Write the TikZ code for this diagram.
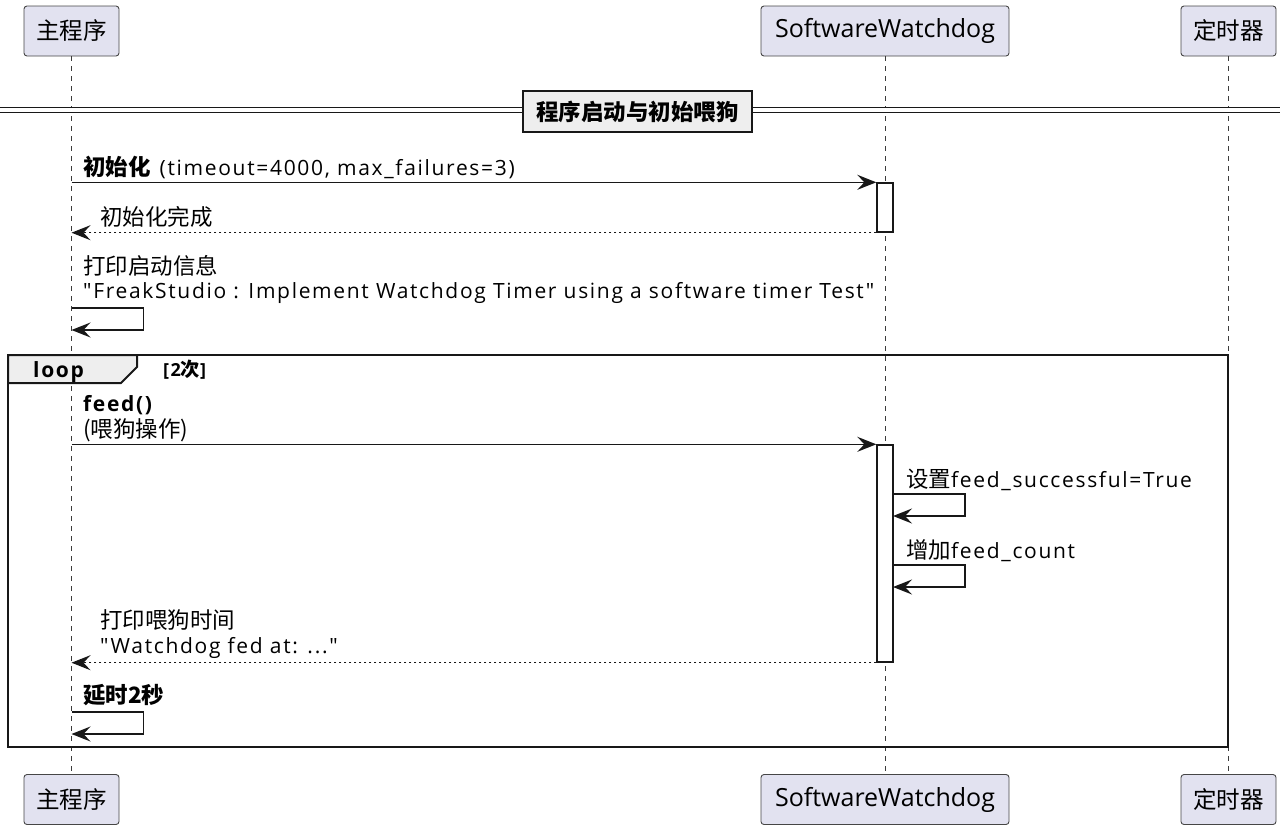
\documentclass[tikz,border=0pt]{standalone}
\usepackage{fontspec}
\setmainfont{Open Sans}
\newfontfamily\lblfont[LetterSpace=8]{Open Sans}
\newfontfamily\cjk[Scale=1.07]{Noto Sans CJK SC}
\newcommand\qq{\char34 }
\usetikzlibrary{arrows.meta}

\definecolor{partfill}{HTML}{E2E2F0}
\definecolor{ink}{HTML}{181818}
\definecolor{tabfill}{HTML}{EEEEEE}

\tikzset{
  part/.style={draw=ink!80, fill=partfill, rounded corners=3pt, line width=0.9pt,
    minimum height=50pt, inner sep=0pt, font=\fontsize{25}{30}\selectfont},
  life/.style={draw=ink!85, line width=0.9pt, dash pattern=on 5pt off 5pt},
  msg/.style={draw=ink, line width=1.5pt, -{Stealth[length=19pt,width=15pt,inset=7pt]}},
  ret/.style={msg, dash pattern=on 2.5pt off 2.5pt},
  act/.style={draw=ink, fill=white, line width=1.4pt, minimum width=16pt, inner sep=0pt},
  lbl/.style={anchor=base west, inner sep=0pt, font=\lblfont\fontsize{21}{25}\selectfont},
  frame/.style={draw=ink, line width=2pt},
}

\begin{document}
\begin{tikzpicture}[x=1pt, y=-1pt]
\useasboundingbox (0,0) rectangle (1280,831);

% participants
\node[part, minimum width=95pt] (mainT) at (71.5,31) {\cjk\fontsize{22}{26}\selectfont 主程序};
\node[part, minimum width=248pt] (wdT) at (885,31) {SoftwareWatchdog};
\node[part, minimum width=95pt] (tmT) at (1228.5,31) {\cjk\fontsize{22}{26}\selectfont 定时器};
\node[part, minimum width=95pt] (mainB) at (71.5,799.5) {\cjk\fontsize{22}{26}\selectfont 主程序};
\node[part, minimum width=248pt] (wdB) at (885,799.5) {SoftwareWatchdog};
\node[part, minimum width=95pt] (tmB) at (1228.5,799.5) {\cjk\fontsize{22}{26}\selectfont 定时器};

% lifelines
\draw[life] (mainT) -- (mainB);
\draw[life] (wdT) -- (wdB);
\draw[life] (tmT) -- (tmB);

% divider
\draw[draw=ink, line width=1.3pt, double distance=3.5pt] (0,110) -- (1280,110);
\node[frame, fill=tabfill, minimum width=229pt, minimum height=41pt, inner sep=0pt,
  font=\fontsize{21}{25}\selectfont] (phase) at (637.5,111.5) {\cjk\bfseries 程序启动与初始喂狗};

% startup
\node[act, minimum height=49pt] (act1) at (885,207.5) {};
\node[lbl] (initL) at (83,175) {{\cjk\bfseries 初始化}\hspace{2pt} (timeout=4000, max\_failures=3)};
\draw[msg] (mainT |- act1.north) -- (act1.north west);
\node[lbl] (doneL) at (100,225) {\cjk 初始化完成};
\draw[ret] (act1.south west) -- (mainT |- act1.south);
\node[lbl] (bootL) at (83,274) {\cjk 打印启动信息};
\node[lbl] (bootM) at (83,298) {\qq FreakStudio : Implement Watchdog Timer using a software timer Test\qq};
\coordinate (boot) at (71.5,308);
\draw[msg] (boot) -- ++(72,0) -- ++(0,22) -- ++(-72,0);

% loop frame
\draw[frame] (8,355) rectangle (1228,747);
\draw[frame, fill=tabfill] (8,355) -- (137,355) -- (137,367) -- (121,383) -- (8,383) -- cycle;
\node[lbl, font=\lblfont\fontsize{21}{25}\selectfont\bfseries] (loopL) at (33,377) {loop};
\node[lbl, font=\lblfont\fontsize{18}{21}\selectfont\bfseries] (loopC) at (163,376) {[2{\cjk 次}]};

% feed
\node[act, minimum height=217pt] (act2) at (885,553.5) {};
\node[lbl, font=\lblfont\fontsize{21}{25}\selectfont\bfseries] (feedL) at (83,411) {feed()};
\node[lbl] (feedM) at (83,437) {\cjk (喂狗操作)};
\draw[msg] (mainT |- act2.north) -- (act2.north west);
\node[lbl] (setL) at (906,487) {{\cjk 设置}feed\_successful=True};
\coordinate (setS) at (893,494);
\draw[msg] (setS) -- ++(72,0) -- ++(0,22) -- ++(-72,0);
\node[lbl] (cntL) at (906,558) {{\cjk 增加}feed\_count};
\coordinate (cntS) at (893,565);
\draw[msg] (cntS) -- ++(72,0) -- ++(0,22) -- ++(-72,0);
\node[lbl] (fedL) at (100,628) {\cjk 打印喂狗时间};
\node[lbl] (fedM) at (100,653) {\qq Watchdog fed at: ...\qq};
\draw[ret] (act2.south west) -- (mainT |- act2.south);
\node[lbl] (waitL) at (83,703) {\cjk\bfseries 延时2秒};
\coordinate (wait) at (71.5,712);
\draw[msg] (wait) -- ++(72,0) -- ++(0,22) -- ++(-72,0);
\end{tikzpicture}
\end{document}
